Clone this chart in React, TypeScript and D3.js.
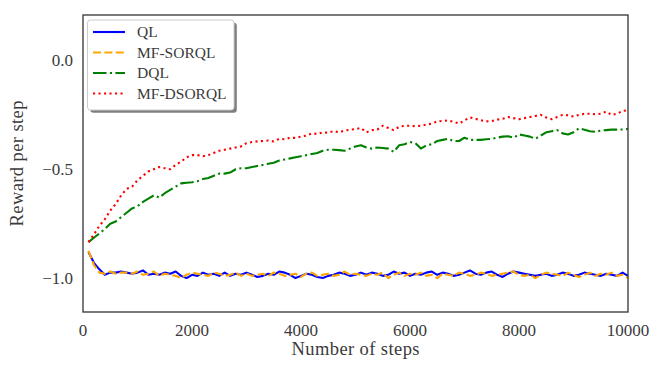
import React from 'react';
import * as d3 from 'd3';

// steps 100, 200, ..., 10000
const steps = d3.range(1, 101).map(i => i * 100);

const qlValues = [
  -0.88, -0.93, -0.96, -0.985, -0.975, -0.975, -0.97, -0.975, -0.98, -0.975,
  -0.965, -0.985, -0.98, -0.985, -0.975, -0.98, -0.97, -0.99, -1.0, -0.985,
  -0.99, -0.975, -0.985, -0.98, -0.99, -0.975, -0.99, -0.98, -0.985, -0.975,
  -0.985, -0.995, -0.99, -0.98, -0.985, -0.97, -0.975, -0.985, -1.0, -0.99,
  -0.98, -0.985, -0.995, -1.0, -0.99, -0.985, -0.975, -0.98, -0.99, -0.985,
  -0.975, -0.985, -0.975, -0.98, -0.99, -0.985, -0.97, -0.98, -0.975, -0.99,
  -0.98, -0.985, -0.975, -0.97, -0.985, -0.975, -0.98, -0.99, -0.985, -0.975,
  -0.965, -0.98, -0.985, -0.975, -0.97, -0.985, -0.995, -0.98, -0.97, -0.975,
  -0.98, -0.985, -0.99, -0.985, -0.98, -0.99, -0.985, -0.975, -0.98, -0.99,
  -0.985, -0.975, -0.98, -0.985, -0.99, -0.98, -0.985, -0.99, -0.975, -0.99,
];

const mfsorqlValues = [
  -0.875, -0.94, -0.975, -0.98, -0.97, -0.98, -0.975, -0.975, -0.98, -0.97,
  -0.985, -0.98, -0.97, -0.99, -0.98, -0.985, -0.99, -1.0, -0.985, -0.975,
  -0.98, -0.985, -0.99, -0.975, -0.98, -0.99, -0.985, -0.975, -0.99, -0.98,
  -0.99, -0.985, -0.98, -0.99, -0.975, -0.98, -0.99, -0.985, -0.98, -0.995,
  -0.98, -0.975, -0.99, -0.985, -0.98, -0.99, -0.985, -0.97, -0.985, -0.98,
  -0.985, -0.99, -0.98, -0.985, -0.975, -1.0, -0.985, -0.975, -0.99, -0.98,
  -0.985, -0.975, -0.99, -0.985, -1.0, -0.98, -0.985, -0.99, -0.975, -0.98,
  -0.99, -0.985, -0.975, -0.98, -0.99, -0.985, -0.98, -0.975, -0.97, -0.985,
  -0.99, -0.985, -1.0, -0.985, -0.975, -0.98, -0.985, -0.99, -0.975, -0.985,
  -0.995, -0.985, -0.975, -0.99, -0.98, -0.985, -0.975, -0.99, -0.985, -1.0,
];

const dqlValues = [
  -0.835, -0.815, -0.795, -0.775, -0.75, -0.74, -0.72, -0.70, -0.68, -0.67,
  -0.65, -0.635, -0.62, -0.63, -0.61, -0.595, -0.58, -0.565, -0.562, -0.56,
  -0.555, -0.545, -0.54, -0.53, -0.52, -0.52, -0.515, -0.50, -0.495, -0.495,
  -0.49, -0.485, -0.48, -0.475, -0.47, -0.46, -0.455, -0.45, -0.445, -0.44,
  -0.435, -0.43, -0.425, -0.415, -0.41, -0.41, -0.412, -0.415, -0.405, -0.395,
  -0.39, -0.40, -0.405, -0.40, -0.402, -0.405, -0.42, -0.39, -0.385, -0.375,
  -0.38, -0.405, -0.39, -0.385, -0.37, -0.365, -0.36, -0.37, -0.37, -0.355,
  -0.365, -0.365, -0.365, -0.362, -0.36, -0.355, -0.35, -0.348, -0.355, -0.34,
  -0.345, -0.35, -0.36, -0.345, -0.33, -0.325, -0.32, -0.335, -0.34, -0.33,
  -0.312, -0.318, -0.325, -0.328, -0.322, -0.32, -0.318, -0.318, -0.317, -0.315,
];

const mfdsorqlValues = [
  -0.835, -0.80, -0.76, -0.73, -0.69, -0.66, -0.62, -0.59, -0.58, -0.55,
  -0.53, -0.51, -0.50, -0.49, -0.495, -0.50, -0.48, -0.465, -0.445, -0.435,
  -0.435, -0.44, -0.435, -0.425, -0.415, -0.41, -0.405, -0.40, -0.395, -0.38,
  -0.375, -0.372, -0.37, -0.368, -0.372, -0.36, -0.362, -0.355, -0.356, -0.35,
  -0.345, -0.335, -0.338, -0.33, -0.332, -0.325, -0.33, -0.322, -0.318, -0.315,
  -0.31, -0.33, -0.32, -0.318, -0.30, -0.31, -0.32, -0.305, -0.30, -0.30,
  -0.302, -0.30, -0.295, -0.29, -0.28, -0.278, -0.275, -0.282, -0.29, -0.275,
  -0.262, -0.268, -0.275, -0.28, -0.278, -0.272, -0.268, -0.26, -0.265, -0.27,
  -0.265, -0.26, -0.255, -0.25, -0.262, -0.27, -0.26, -0.25, -0.252, -0.258,
  -0.25, -0.245, -0.245, -0.247, -0.245, -0.235, -0.25, -0.245, -0.232, -0.228,
];

const seriesNames = ['QL', 'MF-SORQL', 'DQL', 'MF-DSORQL'];
const seriesColors = ['#0000ff', '#ffa500', '#008000', '#ff0000'];
const seriesDashes = ['none', '8,3.4', '13.5,3.4,2.1,3.4', '2.1,3.4'];
const seriesValues = [qlValues, mfsorqlValues, dqlValues, mfdsorqlValues];

const xTicks = [0, 2000, 4000, 6000, 8000, 10000];
const yTicks = [0.0, -0.5, -1.0];

const width = 664;
const height = 374;
const margin = { top: 15, right: 36, bottom: 62, left: 83 };
const font = '"Liberation Serif", "DejaVu Serif", serif';
const textColor = '#3a3a3a';

const App = () => {
  const x = d3.scaleLinear().domain([0, 10000]).range([margin.left, width - margin.right]);
  const y = d3.scaleLinear().domain([-1.156, 0.209]).range([height - margin.bottom, margin.top]);

  const line = d3.line<number>()
    .x((_, i) => x(steps[i]))
    .y(d => y(d));

  const fmtY = (v: number) => (v < 0 ? '\u2212' : '') + Math.abs(v).toFixed(1);

  const legendX = 87.5;
  const legendY = 20;
  const legendW = 146.5;
  const legendH = 90;

  return (
    <div style={{ position: 'absolute', left: 0, top: 0 }}>
      <svg width={width} height={height} style={{ display: 'block' }}>
        <rect width={width} height={height} fill="#fff" />

        {seriesValues.map((vals, k) => (
          <path
            key={seriesNames[k]}
            d={line(vals) || ''}
            fill="none"
            stroke={seriesColors[k]}
            strokeWidth={2.1}
            strokeDasharray={seriesDashes[k]}
            strokeLinejoin="round"
          />
        ))}

        {/* frame */}
        <rect
          x={margin.left}
          y={margin.top}
          width={width - margin.left - margin.right}
          height={height - margin.top - margin.bottom}
          fill="none"
          stroke="#333"
          strokeWidth={1.3}
        />

        {/* x tick labels */}
        {xTicks.map(t => (
          <text key={t} x={x(t)} y={336} textAnchor="middle" fontFamily={font} fontSize={17} fill={textColor}>
            {t}
          </text>
        ))}
        {/* y tick labels */}
        {yTicks.map(t => (
          <text key={t} x={73} y={y(t)} dy="0.35em" textAnchor="end" fontFamily={font} fontSize={17} fill={textColor}>
            {fmtY(t)}
          </text>
        ))}

        <text
          x={(margin.left + width - margin.right) / 2}
          y={355}
          textAnchor="middle"
          fontFamily={font}
          fontSize={18.5}
          fill={textColor}
          textLength={128}
          lengthAdjust="spacing"
        >
          Number of steps
        </text>
        <text
          transform={`translate(23, ${(margin.top + height - margin.bottom) / 2}) rotate(-90)`}
          textAnchor="middle"
          fontFamily={font}
          fontSize={18.5}
          fill={textColor}
          textLength={126}
          lengthAdjust="spacing"
        >
          Reward per step
        </text>

        {/* legend */}
        <rect x={legendX + 2.8} y={legendY + 2.8} width={legendW} height={legendH} rx={3} fill="#000" fillOpacity={0.5} />
        <rect x={legendX} y={legendY} width={legendW} height={legendH} rx={3} fill="#fff" stroke="#ccc" strokeWidth={1} />
        {seriesNames.map((name, k) => {
          const ry = 32 + k * 20.5;
          return (
            <g key={name}>
              <line x1={93} x2={125} y1={ry} y2={ry} stroke={seriesColors[k]} strokeWidth={2.1} strokeDasharray={seriesDashes[k]} />
              <text x={137} y={ry} dy="0.35em" fontFamily={font} fontSize={15.5} fill={textColor}>
                {name}
              </text>
            </g>
          );
        })}
      </svg>
    </div>
  );
};

export default App;
